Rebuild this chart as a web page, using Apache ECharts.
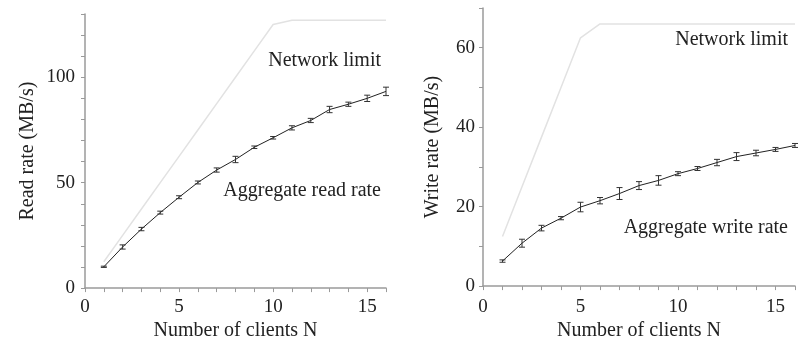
<!DOCTYPE html>
<html>
<head>
<meta charset="utf-8">
<script src="https://cdn.jsdelivr.net/npm/echarts@6/dist/echarts.min.js"></script>
<style>html,body{margin:0;padding:0;background:#fff}#c{width:802px;height:346px}</style>
</head>
<body>
<div id="c"></div>
<script>
const clients = [1,2,3,4,5,6,7,8,9,10,11,12,13,14,15,16];
const readRate = [10.1,19.5,28.0,35.8,43.1,50.1,56.0,61.0,66.8,71.3,76.0,79.5,84.7,87.2,90.0,93.3];
const readErr  = [0.3,1.0,0.8,0.7,0.7,0.7,1.0,1.5,0.6,0.6,1.0,1.0,1.5,1.0,1.5,2.0];
const readLimit = [12.5,25,37.5,50,62.5,75,87.5,100,112.5,125,127,127,127,127,127,127];
const writeRate = [6.3,10.8,14.6,17.1,19.9,21.5,23.3,25.3,26.6,28.3,29.6,31.1,32.6,33.5,34.4,35.4];
const writeErr  = [0.3,1.0,0.7,0.4,1.2,0.8,1.5,1.0,1.2,0.5,0.5,0.8,1.0,0.7,0.5,0.5];
const writeLimit = [12.5,25,37.5,50,62.5,66,66,66,66,66,66,66,66,66,66,66];
const readTicksY = [0,50,100];
const writeTicksY = [0,20,40,60];
const xTicks = [0,5,10,15];

const FONT = 'Liberation Serif';
const TXT = '#222';
const AX = '#9a9a9a';

function pairs(xs, ys){ return xs.map((x,i)=>[x, ys[i]]); }
function errData(xs, ys, es){ return xs.map((x,i)=>[x, ys[i]-es[i], ys[i]+es[i]]); }

function errSeries(idx, data){
  return {
    type:'custom', xAxisIndex: idx, yAxisIndex: idx, data: data, z: 5,
    renderItem: function(params, api){
      const x = api.value(0);
      const lo = api.coord([x, api.value(1)]);
      const hi = api.coord([x, api.value(2)]);
      const w = 3;
      const st = {stroke:'#333', lineWidth:1};
      return {type:'group', children:[
        {type:'line', shape:{x1:lo[0], y1:lo[1], x2:hi[0], y2:hi[1]}, style:st},
        {type:'line', shape:{x1:lo[0]-w, y1:lo[1], x2:lo[0]+w, y2:lo[1]}, style:st},
        {type:'line', shape:{x1:hi[0]-w, y1:hi[1], x2:hi[0]+w, y2:hi[1]}, style:st}
      ]};
    }
  };
}

function xAxis(idx, gap, margin){
  return {
    type:'value', gridIndex: idx, min:0, max:16, interval:1,
    name:'Number of clients N', nameLocation:'middle', nameGap: gap,
    nameTextStyle:{fontFamily:FONT, fontSize:20, color:TXT},
    axisLine:{show:true, lineStyle:{color:AX, width:1.5}},
    axisTick:{show:true, length:4, lineStyle:{color:AX}},
    axisLabel:{fontFamily:FONT, fontSize:19, color:TXT, margin:margin,
      formatter: v => xTicks.indexOf(v) >= 0 ? String(v) : ''},
    splitLine:{show:false}
  };
}
function yAxis(idx, max, name, gap, labels, margin){
  return {
    type:'value', gridIndex: idx, min:0, max:max, interval:10,
    name:name, nameLocation:'middle', nameGap: gap,
    nameTextStyle:{fontFamily:FONT, fontSize:20, color:TXT},
    axisLine:{show:true, lineStyle:{color:AX, width:1.5}},
    axisTick:{show:true, length:4, lineStyle:{color:AX}},
    axisLabel:{fontFamily:FONT, fontSize:19, color:TXT, margin:margin,
      formatter: v => labels.indexOf(v) >= 0 ? String(v) : ''},
    splitLine:{show:false}
  };
}

const chart = echarts.init(document.getElementById('c'), null, {renderer:'canvas'});
chart.setOption({
  animation:false,
  backgroundColor:'#fff',
  grid:[
    {left:85, right:416, top:14, bottom:54},
    {left:483, right:7, top:8, bottom:49}
  ],
  xAxis:[xAxis(0, 21, 9), xAxis(1, 23, 11)],
  yAxis:[
    yAxis(0, 130, 'Read rate (MB/s)', 47, readTicksY, 10),
    yAxis(1, 70, 'Write rate (MB/s)', 40, writeTicksY, 8)
  ],
  graphic:[
    {type:'text', right: 802-381, top: 51, style:{text:'Network limit', font:'20px "Liberation Serif"', fill:TXT}},
    {type:'text', right: 802-381, top: 181, style:{text:'Aggregate read rate', font:'20px "Liberation Serif"', fill:TXT}},
    {type:'text', right: 802-788, top: 30, style:{text:'Network limit', font:'20px "Liberation Serif"', fill:TXT}},
    {type:'text', right: 802-788, top: 218, style:{text:'Aggregate write rate', font:'20px "Liberation Serif"', fill:TXT}}
  ],
  series:[
    {type:'line', xAxisIndex:0, yAxisIndex:0, data:pairs(clients, readLimit), symbol:'none',
      lineStyle:{color:'#e2e2e2', width:1.5}, z:1},
    {type:'line', xAxisIndex:0, yAxisIndex:0, data:pairs(clients, readRate), symbol:'none',
      lineStyle:{color:'#222', width:1}, z:3},
    errSeries(0, errData(clients, readRate, readErr)),
    {type:'line', xAxisIndex:1, yAxisIndex:1, data:pairs(clients, writeLimit), symbol:'none',
      lineStyle:{color:'#e2e2e2', width:1.5}, z:1},
    {type:'line', xAxisIndex:1, yAxisIndex:1, data:pairs(clients, writeRate), symbol:'none',
      lineStyle:{color:'#222', width:1}, z:3},
    errSeries(1, errData(clients, writeRate, writeErr))
  ]
});
</script>
</body>
</html>
